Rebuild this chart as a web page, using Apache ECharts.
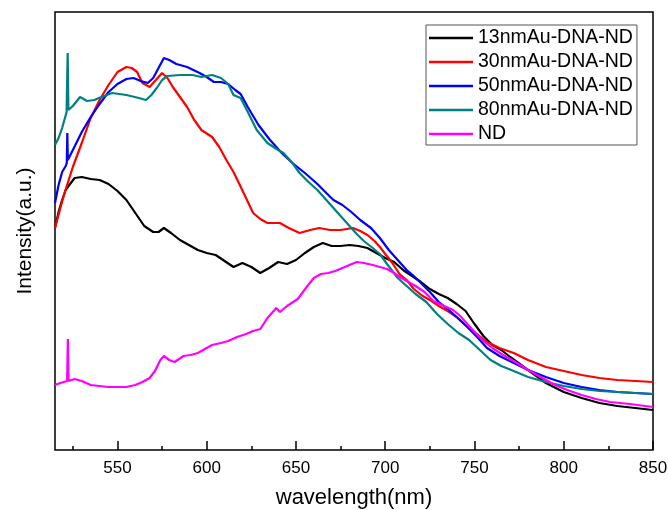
<!DOCTYPE html>
<html>
<head>
<meta charset="utf-8">
<script src="https://cdn.jsdelivr.net/npm/echarts@6/dist/echarts.min.js"></script>
<style>html,body{margin:0;padding:0;background:#fff}#c{width:668px;height:510px}</style>
</head>
<body>
<div id="c"></div>
<script>
var seriesNames = ['13nmAu-DNA-ND','30nmAu-DNA-ND','50nmAu-DNA-ND','80nmAu-DNA-ND','ND'];
var seriesColors = ['#000000','#ff0000','#0000ff','#008080','#ff00ff'];
var majorTicks = [550,600,650,700,750,800,850];
var minorTicks = [525,575,625,675,725,775,825];

var wlBlack = [515,517,519,521,523,526,530,535,540,545,550,555,560,565,570,573,576,580,585,590,595,600,605,610,615,620,625,630,635,640,645,650,655,660,665,670,675,680,685,690,695,700,705,710,715,720,725,730,735,740,745,750,755,760,765,770,780,790,800,810,820,830,840,850];
var inBlack = [222,238,250,260,265,272,273,271,270,266,259,250,237,224,218,218,222,217,210,205,200,197,195,189,183,187,183,177,182,188,186,190,197,203,207,204,204,205,204,202,197,192,188,180,174,168,161,156,152,146,139,126,114,105,100,93,80,67,58,52,47,44,42,40];

var wlRed = [515,518,520,525,530,535,540,545,550,555,558,561,564,568,572,575,578,581,585,589,593,597,603,607,611,615,618,622,626,630,634,641,646,652,658,663,669,675,682,686,690,694,697,700,704,708,712,716,721,726,730,735,740,746,752,757,764,772,780,790,800,810,820,830,840,850];
var inRed = [222,242,255,283,307,332,350,365,378,383,382,378,367,363,371,377,372,363,353,343,330,320,313,303,290,278,267,252,237,231,227,227,222,217,220,222,220,220,222,219,215,209,203,196,187,176,170,161,154,149,144,139,133,123,115,108,102,97,90,83,79,75,72,70,69,68];

var wlBlue = [515,517,519,521,521.6,521.9,522.2,525,530,535,540,545,550,555,559,563,567,570,573,576,579,583,589,596,600,604,608,612,616,619,623,626,629,635,642,648,655,662,667,671,676,681,686,692,697,702,707,712,716,720,725,730,735,740,746,752,757,764,772,780,790,800,810,820,830,840,850];
var inBlue = [247,265,278,284,287,317,290,300,318,333,346,358,366,371,372,369,367,372,382,392,390,386,383,377,373,368,368,366,360,356,343,334,325,311,297,287,277,266,257,250,245,238,230,222,212,200,190,180,174,167,158,148,141,133,123,112,102,94,87,80,73,67,63,60,58,57,56];

var wlTeal = [515,517,519,521.5,522.1,522.5,525,529,533,537,541,547,555,562,566,569,572,575,578,585,592,597,603,608,612,615,619,623,628,634,640,643,648,652,657,662,667,671,676,680,684,688,693,697,701,707,712,717,723,729,735,741,747,753,759,765,772,780,790,800,810,820,830,840,850];
var inTeal = [305,312,322,338,397,340,344,353,349,350,353,357,355,352,350,355,362,370,374,375,375,373,375,372,366,355,352,338,320,307,300,297,287,277,268,260,250,242,232,224,216,209,202,196,186,172,164,156,148,136,126,117,110,100,90,84,79,73,68,64,61,59,58,57,56];

var wlND = [515,518,521.8,522.2,522.6,526,530,535,540,545,550,555,560,564,568,571,574,576,579,582,587,591,595,599,603,608,612,617,622,626,630,634,637,639,641,645,651,656,660,664,668,672,676,680,684,688,693,697,701,705,709,713,717,722,727,733,738,742,746,750,755,760,766,772,780,787,795,802,810,818,826,837,850];
var inND = [65,67,69,111,69,71,69,65,64,63,63,63,65,68,72,79,90,94,90,88,94,95,97,101,105,107,109,113,116,119,121,132,138,142,138,144,151,163,172,176,177,179,182,185,188,187,185,183,181,177,172,168,164,158,149,144,140,134,126,118,109,102,95,89,80,73,65,60,55,51,48,46,43];

var wls = [wlBlack, wlRed, wlBlue, wlTeal, wlND];
var ins = [inBlack, inRed, inBlue, inTeal, inND];

function pairs(xs, ys) {
  var out = [];
  for (var i = 0; i < xs.length; i++) out.push([xs[i], ys[i]]);
  return out;
}

var font = 'Liberation Sans, Arial, Helvetica, sans-serif';
var series = seriesNames.map(function (n, i) {
  return {
    name: n,
    type: 'line',
    xAxisIndex: 0,
    data: pairs(wls[i], ins[i]),
    symbol: 'none',
    showSymbol: false,
    lineStyle: { color: seriesColors[i], width: 2.2 },
    itemStyle: { color: seriesColors[i] },
    z: 2 + i
  };
});

var chart = echarts.init(document.getElementById('c'), null, { renderer: 'canvas' });
chart.setOption({
  animation: false,
  backgroundColor: '#ffffff',
  textStyle: { fontFamily: font },
  grid: { left: 55, right: 15, top: 12, bottom: 60, containLabel: false, outerBoundsMode: 'none', show: true, borderColor: '#000', borderWidth: 1.5, backgroundColor: 'transparent' },
  legend: {
    orient: 'vertical',
    left: 426,
    top: 25,
    icon: 'rect',
    itemWidth: 44,
    itemHeight: 2.5,
    itemGap: 4,
    padding: [3, 4, 1, 3],
    borderColor: '#555',
    borderWidth: 1,
    backgroundColor: '#fff',
    textStyle: { fontSize: 19.5, color: '#000', fontFamily: font },
    data: seriesNames
  },
  xAxis: [
    {
      type: 'value', min: 515, max: 850,
      name: 'wavelength(nm)', nameLocation: 'middle', nameGap: 37,
      nameTextStyle: { fontSize: 22, color: '#000', fontFamily: font },
      axisLine: { show: false },
      axisTick: { show: true, inside: true, length: 9, lineStyle: { color: '#000', width: 1.5 }, customValues: majorTicks },
      axisLabel: { show: true, fontSize: 17, color: '#000', margin: 10, customValues: majorTicks, fontFamily: font },
      splitLine: { show: false }
    },
    {
      type: 'value', min: 515, max: 850, position: 'bottom',
      axisLine: { show: false },
      axisTick: { show: true, inside: true, length: 4, lineStyle: { color: '#000', width: 1.5 }, customValues: minorTicks },
      axisLabel: { show: false },
      splitLine: { show: false }
    }
  ],
  yAxis: {
    type: 'value', min: 0, max: 438,
    name: 'Intensity(a.u.)', nameLocation: 'middle', nameGap: 19,
    nameTextStyle: { fontSize: 21, color: '#000', fontFamily: font },
    axisLine: { show: false },
    axisTick: { show: false },
    axisLabel: { show: false },
    splitLine: { show: false }
  },
  series: series
});
</script>
</body>
</html>
